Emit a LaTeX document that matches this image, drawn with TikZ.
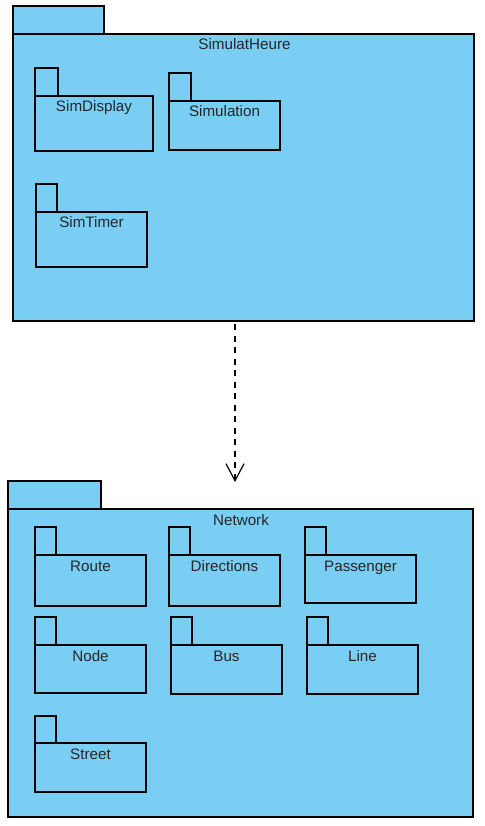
\documentclass[tikz,border=0pt]{standalone}
\usepackage{fontspec}
\setmainfont{Liberation Sans}
\usetikzlibrary{arrows.meta}
\definecolor{pkgblue}{RGB}{122,206,243}
\tikzset{
  x=1pt, y=-1pt,
  box/.style={draw=black, fill=pkgblue, line width=1.3pt, inner sep=0pt, outer sep=0pt, anchor=north west},
  lbl/.style={inner sep=0pt, anchor=base, font=\fontsize{15.2}{18}\selectfont, text=black!85},
  dep/.style={draw=black, line width=1.2pt, dash pattern=on 6pt off 5.5pt, -{Straight Barb[length=17pt,width=18pt,line width=1.2pt]}}
}
% \pkgbox{id}{tabx1}{tabtop}{tabx2}{bodytop}{bodyx2}{bodybottom}{text}
\newcommand{\pkgbox}[8]{%
  \node[box, minimum width=#4pt-#2pt, minimum height=#5pt-#3pt] (#1tab) at (#2,#3) {};
  \node[box, minimum width=#6pt-#2pt, minimum height=#7pt-#5pt] (#1) at (#2,#5) {};
  \node[lbl] (#1lbl) at ({(#2+#6)/2},#5+16) {#8};
}
\begin{document}
\begin{tikzpicture}
\useasboundingbox (0,0) rectangle (484,826);
\fill[white] (0,0) rectangle (484,826);
% SimulatHeure
\node[box, minimum width=91pt, minimum height=28pt] (simtab) at (13,6) {};
\node[box, minimum width=461pt, minimum height=287pt] (sim) at (13,34) {};
\node[lbl] (simlbl) at (244.5,50) {SimulatHeure};
\pkgbox{simdisplay}{35}{68}{58}{96}{153}{151}{SimDisplay}
\pkgbox{simulation}{169}{73}{191}{101}{280}{150}{Simulation}
\pkgbox{simtimer}{36}{184}{57}{212}{147}{267}{SimTimer}
% Network
\node[box, minimum width=93pt, minimum height=28pt] (nettab) at (8,481) {};
\node[box, minimum width=465pt, minimum height=308pt] (net) at (8,509) {};
\node[lbl] (netlbl) at (241,525) {Network};
\pkgbox{route}{35}{527}{56}{555}{146}{606}{Route}
\pkgbox{directions}{169}{527}{190}{555}{280}{606}{Directions}
\pkgbox{passenger}{305}{527}{326}{555}{416}{603}{Passenger}
\pkgbox{nodep}{35}{617}{56}{645}{146}{693}{Node}
\pkgbox{bus}{171}{617}{192}{645}{282}{694}{Bus}
\pkgbox{line}{307}{617}{328}{645}{418}{694}{Line}
\pkgbox{street}{35}{716}{56}{743}{146}{792}{Street}
% dependency
\coordinate (depstart) at (235,324);
\coordinate (depend) at (235,482);
\draw[dep] (depstart) -- (depend);
\end{tikzpicture}
\end{document}
